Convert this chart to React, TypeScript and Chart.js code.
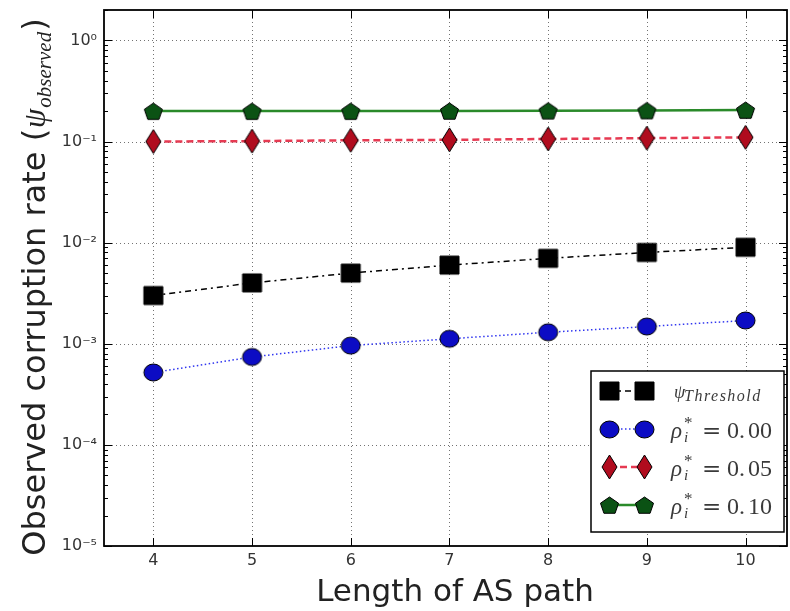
import React, { useEffect, useRef } from "react";
import { Chart, registerables } from "chart.js";

Chart.register(...registerables);

const pathLengths = [4, 5, 6, 7, 8, 9, 10];
const thresholdValues = [0.003, 0.004, 0.005, 0.006, 0.007, 0.008, 0.009];
const rho000Values = [0.00052, 0.00074, 0.00096, 0.00112, 0.0013, 0.00148, 0.0017];
const rho005Values = [0.1, 0.101, 0.103, 0.104, 0.106, 0.108, 0.11];
const rho010Values = [0.2, 0.2, 0.2, 0.201, 0.202, 0.203, 0.205];
const xTickValues = [4, 5, 6, 7, 8, 9, 10];
const yTickValues = [1e-5, 1e-4, 1e-3, 1e-2, 1e-1, 1];
const yTickLabels = ["10⁻⁵", "10⁻⁴", "10⁻³", "10⁻²", "10⁻¹", "10⁰"];
const legendMain = ["ψ", "ρ", "ρ", "ρ"];
const legendSub = ["Threshold", "i", "i", "i"];
const legendSup = ["", "*", "*", "*"];
const legendValue = ["", "0.00", "0.05", "0.10"];
const xTitle = "Length of AS path";
const yTitleMain = "Observed corruption rate (";
const yTitleSymbol = "ψ";
const yTitleSub = "observed";
const yTitleEnd = ")";

const SERIF = "'Liberation Serif', 'DejaVu Serif', serif";
const SANS = "'DejaVu Sans', sans-serif";

function makeMarker(kind: string, fill: string, w: number, h: number) {
  const pad = 2;
  const c = document.createElement("canvas");
  c.width = Math.ceil(w + pad * 2);
  c.height = Math.ceil(h + pad * 2);
  const ctx = c.getContext("2d")!;
  ctx.fillStyle = fill;
  ctx.strokeStyle = "#000";
  ctx.lineWidth = 1;
  const cx = c.width / 2;
  const cy = c.height / 2;
  ctx.beginPath();
  if (kind === "square") {
    ctx.rect(cx - w / 2, cy - h / 2, w, h);
  } else if (kind === "circle") {
    ctx.ellipse(cx, cy, w / 2, h / 2, 0, 0, Math.PI * 2);
  } else if (kind === "diamond") {
    ctx.moveTo(cx, cy - h / 2);
    ctx.lineTo(cx + w / 2, cy);
    ctx.lineTo(cx, cy + h / 2);
    ctx.lineTo(cx - w / 2, cy);
    ctx.closePath();
  } else {
    const rx = w / 2;
    const ry = h / 2;
    for (let i = 0; i < 5; i++) {
      const a = -Math.PI / 2 + (i * 2 * Math.PI) / 5;
      const px = cx + rx * Math.cos(a);
      const py = cy + 1 + ry * Math.sin(a);
      if (i === 0) ctx.moveTo(px, py);
      else ctx.lineTo(px, py);
    }
    ctx.closePath();
  }
  ctx.fill();
  ctx.stroke();
  return c;
}

export default function App() {
  const ref = useRef<HTMLCanvasElement | null>(null);

  useEffect(() => {
    document.body.style.margin = "0";
    const canvas = ref.current!;
    const mSquare = makeMarker("square", "#000000", 19, 18);
    const mCircle = makeMarker("circle", "#0c0cc4", 19, 17);
    const mDiamond = makeMarker("diamond", "#b00c1e", 15, 24);
    const mPent = makeMarker("pentagon", "#0b5214", 19, 18);
    const markers = [mSquare, mCircle, mDiamond, mPent];

    const series = [
      { values: thresholdValues, color: "#000000", dash: [6, 4, 2, 4], width: 1.5, marker: mSquare },
      { values: rho000Values, color: "#3036f0", dash: [1.5, 2.5], width: 1.5, marker: mCircle },
      { values: rho005Values, color: "#e63a52", dash: [7, 4], width: 2.5, marker: mDiamond },
      { values: rho010Values, color: "#2a8a2a", dash: [], width: 2.5, marker: mPent },
    ];

    const framePlugin = {
      id: "framePlugin",
      beforeDatasetsDraw(chart: any) {
        const { ctx, chartArea: a } = chart;
        const xs = chart.scales.x;
        const ys = chart.scales.y;
        ctx.save();
        ctx.strokeStyle = "rgba(0,0,0,0.55)";
        ctx.lineWidth = 1;
        ctx.setLineDash([1, 3]);
        xTickValues.forEach((v) => {
          const px = Math.round(xs.getPixelForValue(v)) + 0.5;
          ctx.beginPath();
          ctx.moveTo(px, a.top);
          ctx.lineTo(px, a.bottom);
          ctx.stroke();
        });
        yTickValues.forEach((v) => {
          const py = Math.round(ys.getPixelForValue(v)) + 0.5;
          if (py <= a.top + 2 || py >= a.bottom - 2) return;
          ctx.beginPath();
          ctx.moveTo(a.left, py);
          ctx.lineTo(a.right, py);
          ctx.stroke();
        });
        ctx.setLineDash([]);
        ctx.strokeStyle = "#000";
        ctx.lineWidth = 1;
        xTickValues.forEach((v) => {
          const px = Math.round(xs.getPixelForValue(v)) + 0.5;
          ctx.beginPath();
          ctx.moveTo(px, a.bottom);
          ctx.lineTo(px, a.bottom - 8);
          ctx.moveTo(px, a.top);
          ctx.lineTo(px, a.top + 8);
          ctx.stroke();
        });
        for (let e = -5; e <= 0; e++) {
          for (let k = 1; k <= 9; k++) {
            const v = k * Math.pow(10, e);
            if (v > ys.max) continue;
            const py = Math.round(ys.getPixelForValue(v)) + 0.5;
            const len = k === 1 ? 8 : 4;
            ctx.beginPath();
            ctx.moveTo(a.left, py);
            ctx.lineTo(a.left + len, py);
            ctx.moveTo(a.right, py);
            ctx.lineTo(a.right - len, py);
            ctx.stroke();
          }
        }
        ctx.restore();
      },
      afterDatasetsDraw(chart: any) {
        const { ctx, chartArea: a } = chart;
        ctx.save();
        ctx.strokeStyle = "#000";
        ctx.lineWidth = 1.8;
        ctx.strokeRect(a.left, a.top, a.right - a.left, a.bottom - a.top);

        // legend
        const bx = 591, by = 371, bw = 193, bh = 161;
        ctx.fillStyle = "#fff";
        ctx.fillRect(bx, by, bw, bh);
        ctx.lineWidth = 1.5;
        ctx.strokeStyle = "#000";
        ctx.strokeRect(bx, by, bw, bh);
        const rows = [391, 429, 467, 505];
        const mx1 = 609, mx2 = 644;
        rows.forEach((ry, i) => {
          const s = series[i];
          ctx.save();
          ctx.strokeStyle = s.color;
          ctx.lineWidth = s.width;
          ctx.setLineDash(s.dash);
          ctx.beginPath();
          ctx.moveTo(mx1, ry);
          ctx.lineTo(mx2, ry);
          ctx.stroke();
          ctx.restore();
          const m = markers[i];
          ctx.drawImage(m, Math.round(mx1 - m.width / 2), Math.round(ry - m.height / 2));
          ctx.drawImage(m, Math.round(mx2 - m.width / 2), Math.round(ry - m.height / 2));
          ctx.fillStyle = "#3a3a3a";
          ctx.textBaseline = "alphabetic";
          ctx.textAlign = "left";
          if (i === 0) {
            ctx.font = `italic 18px ${SERIF}`;
            ctx.fillText(legendMain[i], 674, ry + 7);
            ctx.font = `italic 16px ${SERIF}`;
            (ctx as any).letterSpacing = "1.5px";
            ctx.fillText(legendSub[i], 684, ry + 10);
            (ctx as any).letterSpacing = "0px";
          } else {
            const base = ry + 9;
            ctx.font = `italic 23px ${SERIF}`;
            ctx.fillText(legendMain[i], 671, base);
            ctx.font = `17px ${SERIF}`;
            ctx.fillText(legendSup[i], 684, base - 10);
            ctx.font = `italic 15px ${SERIF}`;
            ctx.fillText(legendSub[i], 684, base + 4);
            ctx.font = `23px 'DejaVu Serif', serif`;
            ctx.fillText("=", 702, base);
            ctx.font = `24px ${SERIF}`;
            const parts = legendValue[i].split(".");
            ctx.fillText(parts[0] + ".", 727, base);
            ctx.fillText(parts[1], 748, base);
          }
        });

        // x title
        ctx.fillStyle = "#222";
        ctx.font = `31px ${SANS}`;
        ctx.textAlign = "center";
        ctx.textBaseline = "alphabetic";
        ctx.fillText(xTitle, 455, 601);

        // y title
        ctx.save();
        ctx.translate(45, 287);
        ctx.rotate(-Math.PI / 2);
        ctx.textAlign = "left";
        ctx.font = `32px ${SANS}`;
        const w1 = ctx.measureText(yTitleMain).width;
        ctx.font = `italic 31px ${SERIF}`;
        const w2 = ctx.measureText(yTitleSymbol).width;
        ctx.font = `italic 21px ${SERIF}`;
        const w3 = ctx.measureText(yTitleSub).width;
        ctx.font = `32px ${SANS}`;
        const w4 = ctx.measureText(yTitleEnd).width;
        let x0 = -(w1 + w2 + w3 + w4 + 3) / 2;
        ctx.font = `32px ${SANS}`;
        ctx.fillText(yTitleMain, x0, 0);
        x0 += w1 + 1;
        ctx.font = `italic 31px ${SERIF}`;
        ctx.fillText(yTitleSymbol, x0, 0);
        x0 += w2 + 1;
        ctx.font = `italic 21px ${SERIF}`;
        ctx.fillText(yTitleSub, x0, 6);
        x0 += w3 + 1;
        ctx.font = `32px ${SANS}`;
        ctx.fillText(yTitleEnd, x0, 0);
        ctx.restore();

        ctx.restore();
      },
    };

    const chart = new Chart(canvas, {
      type: "scatter",
      data: {
        datasets: series.map((s, i) => ({
          label: legendMain[i] + legendSub[i] + (legendValue[i] ? " = " + legendValue[i] : ""),
          data: pathLengths.map((x, j) => ({ x, y: s.values[j] })),
          showLine: true,
          borderColor: s.color,
          borderWidth: s.width,
          borderDash: s.dash,
          backgroundColor: s.color,
          pointStyle: s.marker as any,
          pointRadius: 9,
          pointHoverRadius: 9,
          tension: 0,
          order: 4 - i,
        })),
      },
      options: {
        responsive: false,
        animation: false,
        events: [],
        layout: { autoPadding: false, padding: { left: 0, top: 10, right: 3, bottom: 0 } },
        plugins: {
          legend: { display: false },
          tooltip: { enabled: false },
          title: { display: false },
        },
        scales: {
          x: {
            type: "linear",
            min: 3.5,
            max: 10.42,
            afterBuildTicks: (s: any) => {
              s.ticks = xTickValues.map((v) => ({ value: v }));
            },
            afterFit: (s: any) => {
              s.height = 65;
              s.paddingLeft = 0;
              s.paddingRight = 0;
            },
            grid: { display: false, drawTicks: false, tickLength: 0 },
            border: { display: false },
            ticks: {
              font: { family: SANS, size: 16 },
              color: "#333",
              padding: 5,
              maxRotation: 0,
              callback: (v: any) => String(v),
            },
          },
          y: {
            type: "logarithmic",
            min: 1e-5,
            max: 2,
            afterBuildTicks: (s: any) => {
              s.ticks = yTickValues.map((v) => ({ value: v }));
            },
            afterFit: (s: any) => {
              s.width = 104;
              s.paddingTop = 0;
              s.paddingBottom = 0;
            },
            grid: { display: false, drawTicks: false, tickLength: 0 },
            border: { display: false },
            ticks: {
              font: { family: SANS, size: 16 },
              color: "#333",
              padding: 7,
              callback: (v: any) => {
                const idx = yTickValues.findIndex((t) => Math.abs(Math.log10(t) - Math.log10(Number(v))) < 1e-6);
                return idx >= 0 ? yTickLabels[idx] : "";
              },
            },
          },
        },
      },
      plugins: [framePlugin],
    });

    return () => chart.destroy();
  }, []);

  return (
    <div style={{ width: 790, height: 611, background: "#fff" }}>
      <canvas ref={ref} width={790} height={611} style={{ display: "block" }} />
    </div>
  );
}
